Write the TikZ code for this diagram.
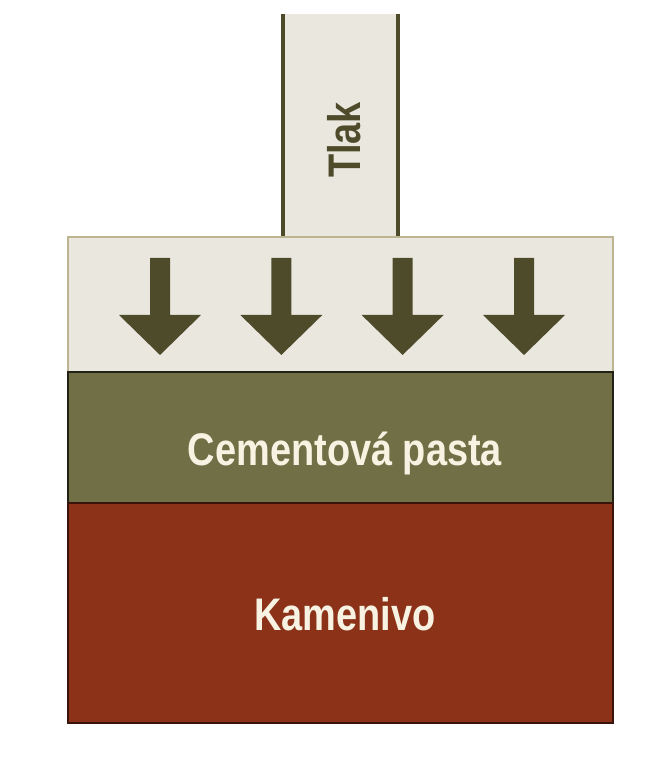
\documentclass[tikz,border=0pt]{standalone}
\usepackage{fontspec}
\setmainfont{Liberation Sans}[FakeStretch=0.83]
\usepackage{xcolor}

\definecolor{plategray}{HTML}{EAE7DF}
\definecolor{plateedge}{HTML}{BDB592}
\definecolor{darkolive}{HTML}{4E4B2B}
\definecolor{pasteolive}{HTML}{716F45}
\definecolor{aggred}{HTML}{8B3219}
\definecolor{labelcream}{HTML}{F7F2E2}

\begin{document}
\begin{tikzpicture}
  \useasboundingbox (0,0) rectangle (6.67,7.63);
  % column and plate
  \fill[plategray] (2.83,5.26) rectangle (3.98,7.49);
  \draw[darkolive,line width=1.1pt] (2.83,7.49) -- (2.83,5.26);
  \draw[darkolive,line width=1.1pt] (3.98,7.49) -- (3.98,5.26);
  \node[darkolive,rotate=90,anchor=base,font=\bfseries\fontsize{13}{15}\selectfont] (tlak) at (3.60,6.23) {Tlak};
  \draw[plateedge,fill=plategray,line width=0.8pt] (0.68,3.91) rectangle (6.13,5.26);
  % arrows
  \foreach \x in {1.60,2.813,4.026,5.24}
    \fill[darkolive] (\x-0.10,5.05) -- (\x+0.10,5.05) -- (\x+0.10,4.48) -- (\x+0.41,4.48)
      -- (\x,4.08) -- (\x-0.41,4.48) -- (\x-0.10,4.48) -- cycle;
  % layers
  \draw[black!70!pasteolive,fill=pasteolive,line width=0.5pt] (0.68,2.60) rectangle (6.13,3.91);
  \draw[black!60!aggred,fill=aggred,line width=0.6pt] (0.68,0.40) rectangle (6.13,2.60);
  \node[labelcream,anchor=base,font=\bfseries\fontsize{13}{15}\selectfont] (pasta) at (3.45,2.97) {Cementová pasta};
  \node[labelcream,anchor=base,font=\bfseries\fontsize{13}{15}\selectfont] (kamenivo) at (3.45,1.32) {Kamenivo};
\end{tikzpicture}
\end{document}
